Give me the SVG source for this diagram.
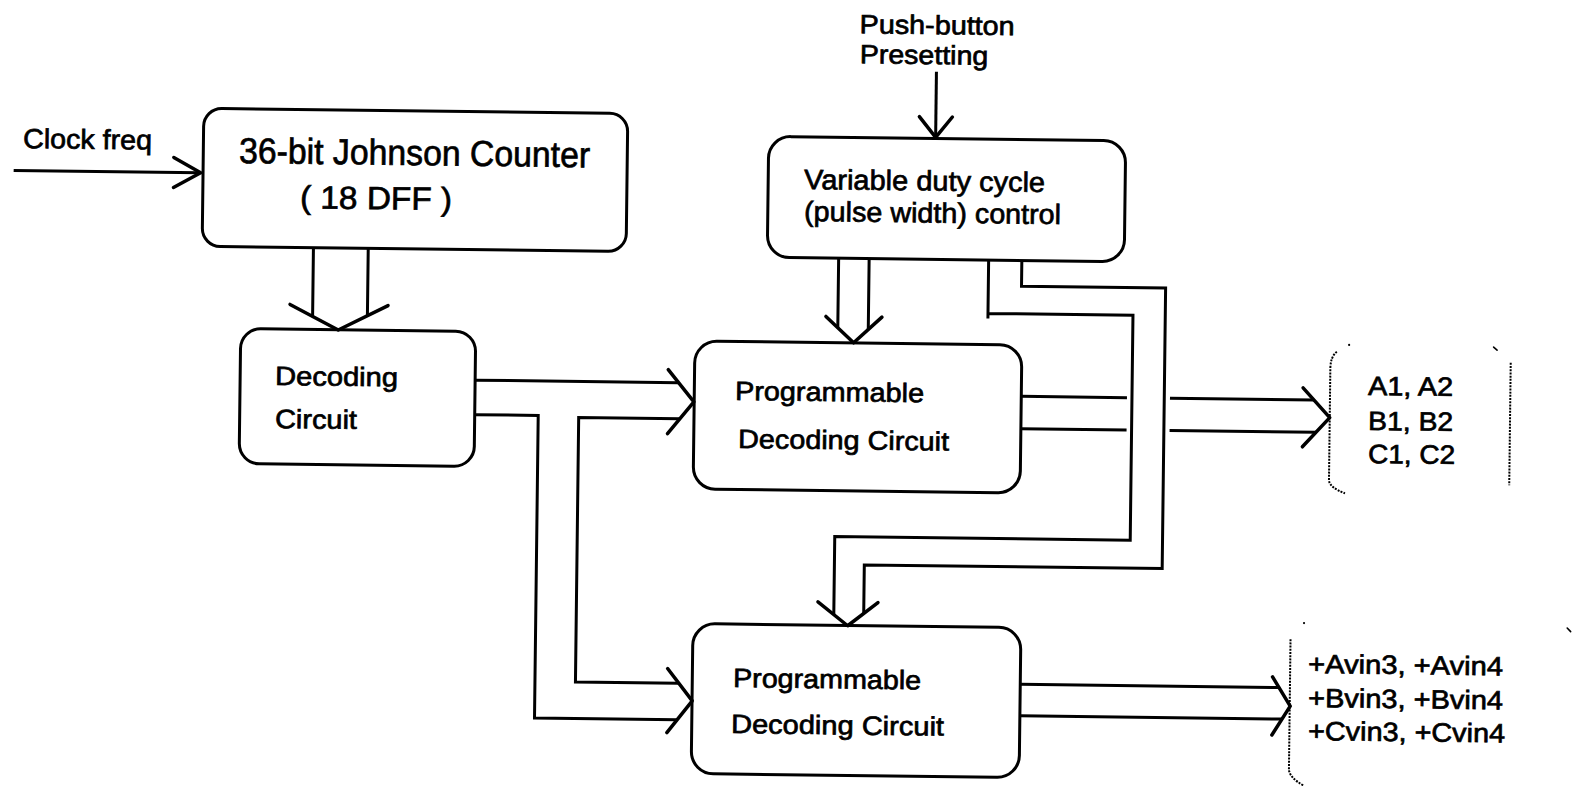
<svg xmlns="http://www.w3.org/2000/svg" width="1574" height="786" viewBox="0 0 1574 786">
  <style>
    .box { fill: none; stroke: #000; stroke-width: 3; }
    .wire { fill: none; stroke: #000; stroke-width: 3; stroke-linejoin: miter; }
    .head { fill: none; stroke: #000; stroke-width: 3.5; stroke-linecap: round; stroke-linejoin: round; }
    .brace { fill: none; stroke: #000; stroke-width: 2; stroke-dasharray: 2 1.2; }
    .speck { fill: none; stroke: #000; stroke-width: 1.6; stroke-linecap: round; }
    text { font-family: "Liberation Sans", Arial, Helvetica, sans-serif; fill: #000; stroke: #000; stroke-width: 0.7; }
  </style>
  <rect x="0" y="0" width="1574" height="786" fill="#fff"/>
  <!-- whole sheet is drawn slightly skewed, as on the printed page -->
  <g transform="rotate(0.7 787 393)">
    <g id="clock-input">
      <text x="20" y="157.3" font-size="27.5" textLength="129" lengthAdjust="spacingAndGlyphs">Clock freq</text>
    </g>
    <g id="johnson-counter">
      <rect class="box" x="200.4" y="115.5" width="424" height="138" rx="18"/>
      <text x="236.2" y="169.7" font-size="36" textLength="351" lengthAdjust="spacingAndGlyphs">36-bit Johnson Counter</text>
      <text x="297.7" y="214.2" font-size="32" textLength="152" lengthAdjust="spacingAndGlyphs">( 18 DFF )</text>
    </g>
    <g id="decoding-circuit">
      <rect class="box" x="240" y="335.2" width="235" height="135" rx="20"/>
      <text x="274.9" y="391.2" font-size="26.5" textLength="123" lengthAdjust="spacingAndGlyphs">Decoding</text>
      <text x="275.4" y="434.2" font-size="26.5" textLength="82" lengthAdjust="spacingAndGlyphs">Circuit</text>
    </g>
    <g id="push-button">
      <text x="855.2" y="32.4" font-size="26.5" textLength="155" lengthAdjust="spacingAndGlyphs">Push-button</text>
      <text x="855.6" y="62.4" font-size="26.5" textLength="128.6" lengthAdjust="spacingAndGlyphs">Presetting</text>
    </g>
    <g id="duty-cycle-control">
      <rect class="box" x="765.6" y="136.6" width="357" height="121" rx="22"/>
      <text x="801.5" y="188.8" font-size="28" textLength="241" lengthAdjust="spacingAndGlyphs">Variable duty cycle</text>
      <text x="801.9" y="220.8" font-size="28" textLength="257" lengthAdjust="spacingAndGlyphs">(pulse width) control</text>
    </g>
    <g id="prog-decoder-1">
      <rect class="box" x="694.3" y="342.1" width="327" height="148" rx="22"/>
      <text x="735.1" y="400.6" font-size="26.5" textLength="189" lengthAdjust="spacingAndGlyphs">Programmable</text>
      <text x="738.7" y="448.6" font-size="26.5" textLength="211" lengthAdjust="spacingAndGlyphs">Decoding Circuit</text>
    </g>
    <g id="prog-decoder-2">
      <rect class="box" x="695.8" y="624.7" width="328" height="150" rx="22"/>
      <text x="736.6" y="687.7" font-size="26.5" textLength="188" lengthAdjust="spacingAndGlyphs">Programmable</text>
      <text x="735.1" y="733.7" font-size="26.5" textLength="213" lengthAdjust="spacingAndGlyphs">Decoding Circuit</text>
    </g>
    <g id="phase-outputs">
      <path class="brace" d="M1336.3,345 Q1330,350 1330,362 V474 Q1331,481 1346.2,486.5"/>
      <path class="brace" d="M1510.3,354 V476.5"/>
      <circle cx="1348.5" cy="338.1" r="1.1" fill="#000"/>
      <path class="speck" d="M1493,338.5 L1496.5,341.5"/>
      <text x="1368" y="387.9" font-size="26.5" textLength="85" lengthAdjust="spacingAndGlyphs">A1, A2</text>
      <text x="1368.5" y="422.9" font-size="26.5" textLength="85" lengthAdjust="spacingAndGlyphs">B1, B2</text>
      <text x="1368.9" y="455.9" font-size="26.5" textLength="87" lengthAdjust="spacingAndGlyphs">C1, C2</text>
    </g>
    <g id="vin-outputs">
      <path class="brace" d="M1293.5,633 V764 Q1295,772 1308,779"/>
      <circle cx="1306.8" cy="616.7" r="1.1" fill="#000"/>
      <path class="speck" d="M1570,618.5 L1573.5,622"/>
      <text x="1311.4" y="666.6" font-size="26.5" textLength="195" lengthAdjust="spacingAndGlyphs">+Avin3, +Avin4</text>
      <text x="1311.8" y="700.6" font-size="26.5" textLength="195" lengthAdjust="spacingAndGlyphs">+Bvin3, +Bvin4</text>
      <text x="1312.2" y="733.6" font-size="26.5" textLength="197" lengthAdjust="spacingAndGlyphs">+Cvin3, +Cvin4</text>
    </g>
    <g id="connectors">
      <!-- clock into counter -->
      <path class="wire" d="M11,180 H197"/>
      <path class="head" d="M171,165 L198,180 L171,195"/>
      <!-- counter bus into decoder -->
      <path class="wire" d="M311.7,253.5 V322.2 M366.5,253.5 V320.9"/>
      <path class="head" d="M289,310.5 L337.5,335.5 L387,310.5"/>
      <!-- decoder into both programmable decoders -->
      <path class="wire" d="M475,384 H678"/>
      <path class="wire" d="M680,420 H579 V684.5 H682"/>
      <path class="head" d="M668,371 L694,403 L668,435"/>
      <path class="wire" d="M475,418.5 H538.5 V721 H681"/>
      <path class="head" d="M671,670 L696,702 L671,734"/>
      <!-- push-button preset -->
      <path class="wire" d="M932.5,70 V134"/>
      <path class="head" d="M916,115 L932.5,135.5 L949,115"/>
      <!-- duty-cycle bus into decoder 1 -->
      <path class="wire" d="M837,257.6 V327.1 M867.5,257.6 V328.5"/>
      <path class="head" d="M825,316 L853,342 L881,316"/>
      <!-- duty-cycle bus routed round to decoder 2 -->
      <path class="wire" d="M987,257.6 V316 M987,311 H1132 V536 H836.5 V614"/>
      <path class="wire" d="M1020.2,257.6 V283.4 H1164.3 V564 H866.4 V612.5"/>
      <path class="head" d="M820.5,601.5 L850.5,625 L880.5,601.5"/>
      <!-- decoder 1 outputs, hopping the routed bus -->
      <path class="wire" d="M1021.3,393.5 H1127 M1170,393.5 H1314 M1021.3,425.8 H1127 M1170,425.8 H1316.5"/>
      <path class="head" d="M1303,381.5 L1330,411 L1303,440.5"/>
      <!-- decoder 2 outputs -->
      <path class="wire" d="M1023.8,681.5 H1282.5 M1023.8,713 H1286"/>
      <path class="head" d="M1276,671 L1294,700 L1276,729"/>
    </g>
  </g>
</svg>
